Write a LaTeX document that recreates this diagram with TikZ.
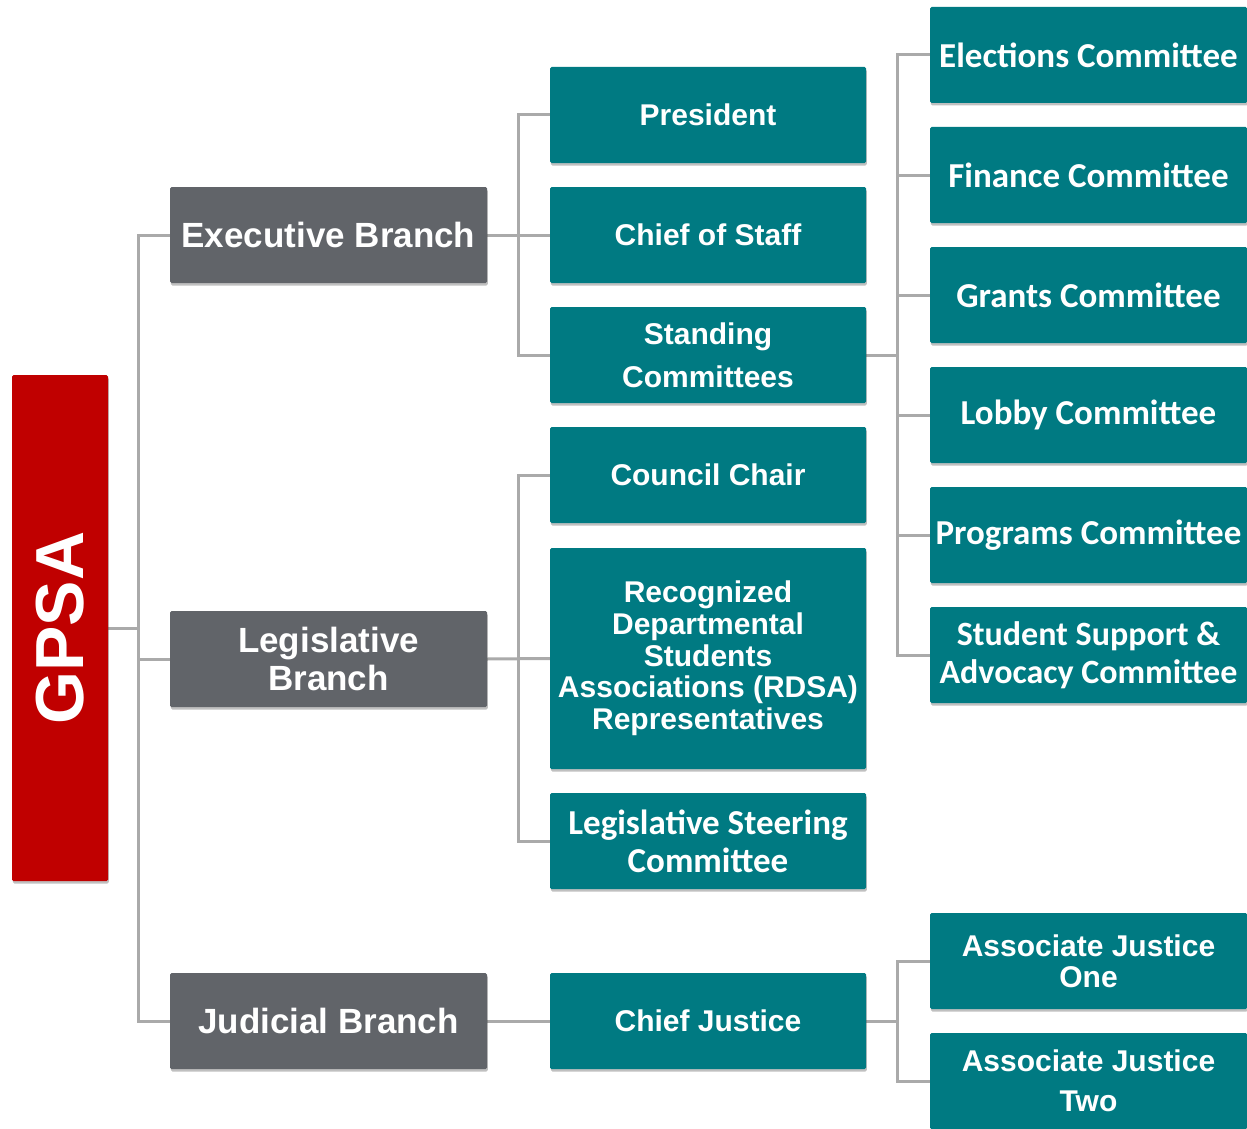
\documentclass[tikz,border=0pt]{standalone}
\usepackage{fontspec}
\usepackage{graphicx}
\setmainfont{Liberation Sans}
\newfontfamily\calfont{Carlito}
\usetikzlibrary{shadows,backgrounds}
\definecolor{tealbg}{RGB}{0,122,130}
\definecolor{slatebg}{RGB}{97,100,105}
\definecolor{gpsared}{RGB}{192,0,0}
\definecolor{linegray}{RGB}{170,170,170}
\tikzset{
  box/.style={anchor=north west, inner sep=0pt, outer sep=0pt, text=white,
    align=center, rounded corners=1.5pt,
    drop shadow={shadow xshift=0.8pt, shadow yshift=-2.5pt, opacity=0.35, fill=black!70}},
  tealbox/.style={box, fill=tealbg, minimum width=316pt, minimum height=96pt},
  sidebox/.style={box, fill=tealbg, minimum width=317pt, minimum height=96pt},
  graybox/.style={box, fill=slatebg, minimum width=317pt, minimum height=96pt},
  conn/.style={draw=linegray, line width=3pt},
  arialA/.style={font=\bfseries\fontsize{30}{32}\selectfont},
  arialB/.style={font=\bfseries\fontsize{35}{38}\selectfont},
  calA/.style={font=\calfont\bfseries\fontsize{35}{38}\selectfont}
}
\begin{document}
\begin{tikzpicture}[x=1pt,y=-1pt]
\useasboundingbox (0,0) rectangle (1247,1129);

% root
\node[box, fill=gpsared, minimum width=96pt, minimum height=506pt,
      font=\bfseries\fontsize{68}{70}\selectfont] (gpsa) at (12,375) {\rotatebox{90}{GPSA}};

% branches
\node[graybox, arialB] (exec) at (170,187) {Executive Branch};
\node[graybox, arialB] (leg)  at (170,611) {Legislative\\Branch};
\node[graybox, arialB] (jud)  at (170,973) {Judicial Branch};

% second column
\node[tealbox, arialA] (pres)  at (550,67)  {President};
\node[tealbox, arialA] (cos)   at (550,187) {Chief of Staff};
\node[tealbox, arialA, font=\bfseries\fontsize{30}{43}\selectfont] (stand) at (550,307) {Standing\\Committees};
\node[tealbox, arialA] (cc)    at (550,427) {Council Chair};
\node[tealbox, minimum height=221pt, font=\bfseries\fontsize{30}{31.7}\selectfont] (rdsa) at (550,548)
  {Recognized\\Departmental\\Students\\Associations (RDSA)\\Representatives};
\node[tealbox, calA] (lsc)   at (550,793) {Legislative Steering\\Committee};
\node[tealbox, arialA] (cj)    at (550,973) {Chief Justice};

% third column
\node[sidebox, calA] (elec)   at (930,7)   {Elections Committee};
\node[sidebox, calA] (fin)    at (930,127) {Finance Committee};
\node[sidebox, calA] (grants) at (930,247) {Grants Committee};
\node[sidebox, calA] (lobby)  at (930,367) {Lobby Committee};
\node[sidebox, calA] (prog)   at (930,487) {Programs Committee};
\node[sidebox, font=\calfont\bfseries\fontsize{34}{38}\selectfont] (ssa) at (930,607) {Student Support \&\\Advocacy Committee};
\node[sidebox, font=\bfseries\fontsize{30}{31}\selectfont] (aj1) at (930,913)  {Associate Justice\\One};
\node[sidebox, font=\bfseries\fontsize{30}{40}\selectfont] (aj2) at (930,1033) {Associate Justice\\Two};

\coordinate (bus0) at (138,0);
\coordinate (bus1) at (518,0);
\coordinate (bus2) at (897,0);

\begin{pgfonlayer}{background}
  \fill[white] (0,0) rectangle (1247,1129);
  % root to branches
  \draw[conn] (gpsa.east) -- (gpsa.east -| bus0);
  \draw[conn] (exec.west) -- (exec.west -| bus0) -- (jud.west -| bus0) -- (jud.west);
  \draw[conn] (leg.west) -- (leg.west -| bus0);
  % executive
  \draw[conn] (exec.east) -- (cos.west);
  \draw[conn] (pres.west) -- (pres.west -| bus1) -- (stand.west -| bus1) -- (stand.west);
  % legislative
  \draw[conn] (leg.east) -- (rdsa.west);
  \draw[conn] (cc.west) -- (cc.west -| bus1) -- (lsc.west -| bus1) -- (lsc.west);
  % judicial
  \draw[conn] (jud.east) -- (cj.west);
  % standing committees
  \draw[conn] (stand.east) -- (stand.east -| bus2);
  \draw[conn] (elec.west) -- (elec.west -| bus2) -- (ssa.west -| bus2) -- (ssa.west);
  \draw[conn] (fin.west) -- (fin.west -| bus2);
  \draw[conn] (grants.west) -- (grants.west -| bus2);
  \draw[conn] (lobby.west) -- (lobby.west -| bus2);
  \draw[conn] (prog.west) -- (prog.west -| bus2);
  % justices
  \draw[conn] (cj.east) -- (cj.east -| bus2);
  \draw[conn] (aj1.west) -- (aj1.west -| bus2) -- (aj2.west -| bus2) -- (aj2.west);
\end{pgfonlayer}
\end{tikzpicture}
\end{document}
